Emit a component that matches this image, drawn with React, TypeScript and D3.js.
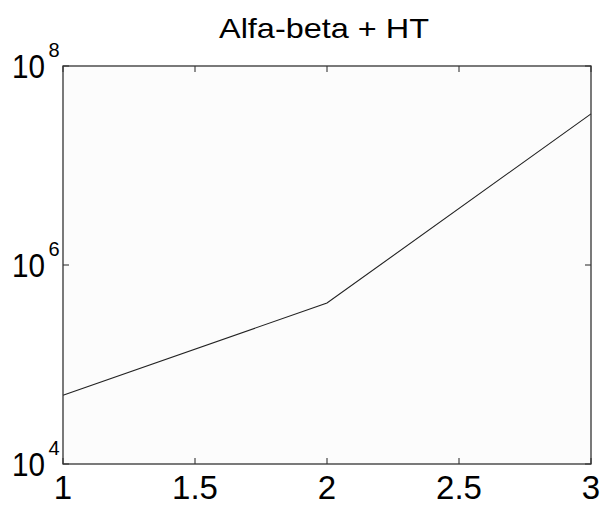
import React from "react";
import * as d3 from "d3";

const title = "Alfa-beta + HT";
const xValues = [1, 2, 3];
const yValues = [4.9e4, 4.15e5, 3.3e7];
const xTicks = [1, 1.5, 2, 2.5, 3];
const xTickLabels = ["1", "1.5", "2", "2.5", "3"];
const yTicks = [1e4, 1e6, 1e8];
const yTickExps = ["4", "6", "8"];

const W = 605;
const H = 509;
const M = { left: 63, right: 591, top: 66, bottom: 464 };
const FONT = "'Liberation Sans', Arial, Helvetica, sans-serif";

export default function App() {
  const x = d3.scaleLinear().domain([1, 3]).range([M.left, M.right]);
  const y = d3.scaleLog().domain([1e4, 1e8]).range([M.bottom, M.top]);
  const line = d3
    .line<number>()
    .x((_, i) => x(xValues[i]))
    .y((d) => y(d));
  const tl = 6;
  return (
    <svg
      width={W}
      height={H}
      style={{ position: "absolute", left: 0, top: 0, background: "#fff" }}
      fontFamily={FONT}
    >
      <rect x={0} y={0} width={W} height={H} fill="#fff" />
      <rect
        x={M.left}
        y={M.top}
        width={M.right - M.left}
        height={M.bottom - M.top}
        fill="#fcfcfc"
      />
      <path d={line(yValues) || ""} fill="none" stroke="#222" strokeWidth={1.1} />
      {xTicks.map((t) => (
        <g key={"xt" + t}>
          <line x1={x(t)} x2={x(t)} y1={M.bottom} y2={M.bottom - tl} stroke="#222" />
          <line x1={x(t)} x2={x(t)} y1={M.top} y2={M.top + tl} stroke="#222" />
        </g>
      ))}
      {yTicks.map((t) => (
        <g key={"yt" + t}>
          <line x1={M.left} x2={M.left + tl} y1={y(t)} y2={y(t)} stroke="#222" />
          <line x1={M.right} x2={M.right - tl} y1={y(t)} y2={y(t)} stroke="#222" />
        </g>
      ))}
      <rect
        x={M.left}
        y={M.top}
        width={M.right - M.left}
        height={M.bottom - M.top}
        fill="none"
        stroke="#333"
        strokeWidth={1.3}
      />
      {xTicks.map((t, i) => (
        <text
          key={"xl" + t}
          x={x(t)}
          y={499}
          textAnchor="middle"
          fontSize={33}
          fill="#000"
        >
          {xTickLabels[i]}
        </text>
      ))}
      {yTicks.map((t, i) => (
        <g key={"yl" + t}>
          <text
            x={12}
            y={y(t) + 12}
            textAnchor="start"
            fontSize={33}
            fill="#000"
            textLength={33}
            lengthAdjust="spacingAndGlyphs"
          >
            10
          </text>
          <text x={48.5} y={y(t) - 9} textAnchor="start" fontSize={20} fill="#000">
            {yTickExps[i]}
          </text>
        </g>
      ))}
      <text
        x={219}
        y={38}
        textAnchor="start"
        fontSize={28.5}
        fill="#000"
        textLength={210}
        lengthAdjust="spacingAndGlyphs"
      >
        {title}
      </text>
    </svg>
  );
}
